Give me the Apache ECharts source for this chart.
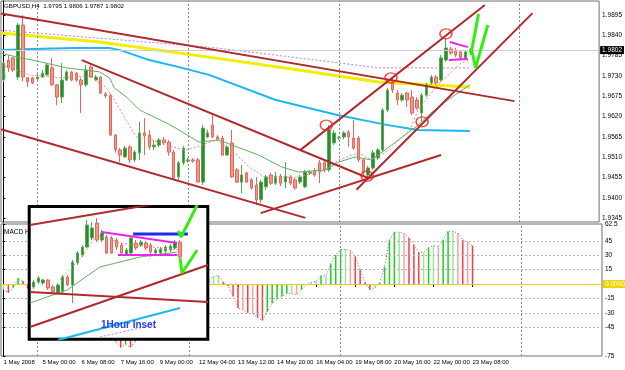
<!DOCTYPE html>
<html>
<head>
<meta charset="utf-8">
<script src="https://cdn.jsdelivr.net/npm/echarts@6/dist/echarts.min.js"></script>
<style>
  html, body { margin: 0; padding: 0; background: #fff; }
  #chart { width: 625px; height: 370px; }
</style>
</head>
<body>
<div id="chart"></div>
<script>
const FONT = "'Liberation Sans', sans-serif"

// time axis (H4 bars, label every 8th bar)
const tickIdx = [0, 8, 16, 24, 32, 40, 48, 56, 64, 72, 80, 88, 96]
const tickLabels = ['1 May 2008', '5 May 00:00', '6 May 08:00', '7 May 16:00', '9 May 00:00', '12 May 04:00',
  '13 May 12:00', '14 May 20:00', '16 May 04:00', '19 May 08:00', '20 May 16:00', '22 May 00:00', '23 May 08:00']
const weekLines = [7, 38, 69, 106]
const priceTicks = [1.9345, 1.9400, 1.9455, 1.9510, 1.9565, 1.9620, 1.9675, 1.9730, 1.9785, 1.9840, 1.9895]
const macdTicks = [62.5, 45, 30, 15, -15, -30, -45, -75]
const macdGrid = [45, 30, 15, -15, -30, -45]

// GBPUSD H4 candles: open, close, low, high
const candles = [
  [1.9719, 1.9765, 1.9714, 1.9768], [1.9773, 1.9752, 1.9741, 1.9787], [1.9779, 1.9746, 1.9741, 1.9781],
  [1.9727, 1.9868, 1.9719, 1.9873], [1.9868, 1.9727, 1.9716, 1.9895], [1.9725, 1.9714, 1.9700, 1.9727],
  [1.9725, 1.9711, 1.9708, 1.9727], [1.9722, 1.9727, 1.9719, 1.9735], [1.9727, 1.9738, 1.9725, 1.9746],
  [1.9733, 1.9760, 1.9730, 1.9765], [1.9752, 1.9706, 1.9703, 1.9779], [1.9706, 1.9673, 1.9651, 1.9708],
  [1.9673, 1.9719, 1.9657, 1.9765], [1.9719, 1.9741, 1.9716, 1.9746], [1.9741, 1.9719, 1.9716, 1.9744],
  [1.9738, 1.9719, 1.9714, 1.9741], [1.9719, 1.9706, 1.9630, 1.9725], [1.9706, 1.9746, 1.9700, 1.9760],
  [1.9754, 1.9727, 1.9725, 1.9760], [1.9719, 1.9727, 1.9716, 1.9733], [1.9727, 1.9684, 1.9681, 1.9730],
  [1.9681, 1.9676, 1.9670, 1.9687], [1.9678, 1.9570, 1.9568, 1.9681], [1.9570, 1.9530, 1.9522, 1.9573],
  [1.9530, 1.9516, 1.9497, 1.9535], [1.9511, 1.9535, 1.9508, 1.9541], [1.9538, 1.9503, 1.9495, 1.9543],
  [1.9503, 1.9524, 1.9497, 1.9530], [1.9522, 1.9576, 1.9503, 1.9606], [1.9576, 1.9568, 1.9516, 1.9616],
  [1.9570, 1.9538, 1.9530, 1.9584], [1.9538, 1.9543, 1.9530, 1.9557], [1.9543, 1.9557, 1.9538, 1.9562],
  [1.9557, 1.9549, 1.9543, 1.9565], [1.9551, 1.9524, 1.9514, 1.9557], [1.9524, 1.9454, 1.9449, 1.9530],
  [1.9457, 1.9495, 1.9449, 1.9500], [1.9495, 1.9535, 1.9489, 1.9541], [1.9500, 1.9503, 1.9495, 1.9508],
  [1.9503, 1.9500, 1.9495, 1.9508], [1.9503, 1.9443, 1.9441, 1.9508], [1.9443, 1.9589, 1.9435, 1.9597],
  [1.9565, 1.9576, 1.9562, 1.9584], [1.9597, 1.9565, 1.9562, 1.9624], [1.9565, 1.9559, 1.9557, 1.9570],
  [1.9562, 1.9516, 1.9514, 1.9568], [1.9516, 1.9538, 1.9514, 1.9543], [1.9549, 1.9457, 1.9454, 1.9584],
  [1.9476, 1.9443, 1.9441, 1.9481], [1.9443, 1.9462, 1.9413, 1.9489], [1.9468, 1.9443, 1.9441, 1.9470],
  [1.9449, 1.9427, 1.9422, 1.9454], [1.9435, 1.9395, 1.9381, 1.9457], [1.9395, 1.9443, 1.9386, 1.9449],
  [1.9430, 1.9457, 1.9422, 1.9462], [1.9462, 1.9440, 1.9435, 1.9468], [1.9440, 1.9459, 1.9435, 1.9470],
  [1.9459, 1.9440, 1.9432, 1.9465], [1.9443, 1.9459, 1.9427, 1.9497], [1.9457, 1.9440, 1.9435, 1.9462],
  [1.9449, 1.9427, 1.9422, 1.9454], [1.9443, 1.9457, 1.9438, 1.9462], [1.9430, 1.9470, 1.9427, 1.9476],
  [1.9468, 1.9470, 1.9462, 1.9476], [1.9473, 1.9462, 1.9457, 1.9481], [1.9495, 1.9470, 1.9440, 1.9503],
  [1.9495, 1.9476, 1.9470, 1.9503], [1.9476, 1.9584, 1.9470, 1.9597], [1.9549, 1.9576, 1.9543, 1.9584],
  [1.9562, 1.9563, 1.9557, 1.9568], [1.9565, 1.9576, 1.9559, 1.9581], [1.9578, 1.9565, 1.9538, 1.9584],
  [1.9562, 1.9535, 1.9530, 1.9611], [1.9562, 1.9503, 1.9497, 1.9568], [1.9503, 1.9470, 1.9462, 1.9508],
  [1.9462, 1.9481, 1.9449, 1.9487], [1.9481, 1.9522, 1.9476, 1.9530], [1.9508, 1.9530, 1.9503, 1.9535],
  [1.9530, 1.9638, 1.9524, 1.9643], [1.9638, 1.9692, 1.9632, 1.9698], [1.9714, 1.9692, 1.9684, 1.9725],
  [1.9684, 1.9665, 1.9651, 1.9692], [1.9665, 1.9678, 1.9660, 1.9684], [1.9684, 1.9665, 1.9646, 1.9687],
  [1.9673, 1.9630, 1.9624, 1.9692], [1.9665, 1.9643, 1.9638, 1.9673], [1.9630, 1.9678, 1.9606, 1.9684],
  [1.9678, 1.9706, 1.9673, 1.9711], [1.9711, 1.9727, 1.9706, 1.9733], [1.9727, 1.9711, 1.9706, 1.9733],
  [1.9719, 1.9779, 1.9714, 1.9787], [1.9773, 1.9806, 1.9768, 1.9833], [1.9803, 1.9792, 1.9787, 1.9809],
  [1.9800, 1.9787, 1.9781, 1.9806], [1.9795, 1.9779, 1.9773, 1.9800], [1.9779, 1.9795, 1.9776, 1.9800],
  [1.9795, 1.9802, 1.9787, 1.9806],
]

// MACD histogram, one value per bar
const macd = [
  -6, -9, -4, 6, 3, -5, -8, -10, -9, -6,
  -7, -12, -10, -8, -8, -9, -14, -11, -12, -13,
  -22, -30, -48, -60, -66, -63, -66, -60, -50, -44,
  -42, -38, -33, -30, -31, -40, -36, -28, -26, -24,
  -28, -12, 5, 7.6, 9, 2, -2, -13, -25, -27,
  -30, -31, -35, -38, -29, -20, -16, -13, -10, -10,
  -11, -6, -1, 1.5, 3, 8.5, 8.5, 21, 30, 36,
  36, 35, 29, 15, 1.5, -6, -4, 1, 18, 46,
  54, 54, 53, 48, 41, 33, 33, 38, 40, 39,
  46, 55, 55, 53, 46, 44, 40,
]

// moving averages, read as [bar, price]
const maYellow = [[-0.5, 1.9846], [19.8, 1.9822], [42.3, 1.9781], [60.7, 1.9746], [77.1, 1.9714], [95.9, 1.9700]]
const maPurple = [[-0.5, 1.9854], [42.3, 1.9808], [60.7, 1.9779], [77.1, 1.9752], [95.9, 1.9752]]
const maCyan = [[-0.5, 1.9800], [6, 1.9803], [14.7, 1.9806], [21.8, 1.9806], [24, 1.9800], [30, 1.9773],
  [36.1, 1.9754], [42.3, 1.9733], [56, 1.9665], [68.9, 1.9624], [79.1, 1.9597], [85.3, 1.9584], [95.9, 1.9581]]
const maGreen = [[-0.5, 1.9792], [2.8, 1.9781], [6, 1.9773], [13, 1.9752], [19.8, 1.9741], [21.8, 1.9725],
  [22.8, 1.9698], [25.3, 1.9673], [28, 1.9638], [33.5, 1.9603], [36.1, 1.9584], [40.2, 1.9551],
  [44.3, 1.9557], [47, 1.9543], [52.5, 1.9516], [57.2, 1.9484], [60.7, 1.9470], [66.2, 1.9476],
  [68.9, 1.9497], [72.4, 1.9511], [75.6, 1.9503], [78.5, 1.9530], [81.2, 1.9557], [85.3, 1.9597],
  [87.9, 1.9630], [91.4, 1.9665], [95.9, 1.9706]]
const maPink = [[-0.5, 1.9760], [5.4, 1.9733], [11.6, 1.9725], [17.7, 1.9730], [21.2, 1.9698], [22.8, 1.9665],
  [27.3, 1.9565], [30.6, 1.9557], [34.7, 1.9538], [37.6, 1.9530], [40.8, 1.9543], [43.7, 1.9557],
  [47, 1.9530], [50.5, 1.9484], [54, 1.9454], [60.7, 1.9457], [66.2, 1.9476], [68.9, 1.9503],
  [73, 1.9522], [75.6, 1.9503], [78.5, 1.9522], [83.6, 1.9584], [85.3, 1.9638], [89.3, 1.9706],
  [94.1, 1.9765], [95.9, 1.9773]]

// hand drawn objects
const trendLines = [
  [[-0.5, 1.9899], [105.1, 1.9662]],
  [[16.1, 1.9773], [75.0, 1.9454]],
  [[-0.5, 1.9586], [62.1, 1.9346]],
  [[52.9, 1.9359], [90.0, 1.9516]],
  [[61.1, 1.9530], [99.0, 1.9922]],
  [[72.6, 1.9422], [108.8, 1.9900]],
]
const circles = [[66.4, 1.9597], [79.7, 1.9725], [91.0, 1.9844], [86.1, 1.9606], [74.8, 1.9459]]
const wedge = [[[91.8, 1.9822], [95.5, 1.9808]], [[91.6, 1.9773], [95.5, 1.9776]]]
const checkMark = [[97.7, 1.9898], [96.3, 1.9800], [97.1, 1.9752], [99.6, 1.9868]]

// 1 hour inset
const insetCandles = [
  [1.9758, 1.9763, 1.9756, 1.9765], [1.9763, 1.9767, 1.9761, 1.9769], [1.9762, 1.9765, 1.9760, 1.9766],
  [1.9765, 1.9757, 1.9755, 1.9766], [1.9758, 1.9753, 1.9751, 1.9760], [1.9752, 1.9760, 1.9750, 1.9762],
  [1.9753, 1.9768, 1.9752, 1.9770], [1.9768, 1.9760, 1.9759, 1.9770], [1.9760, 1.9783, 1.9742, 1.9785],
  [1.9782, 1.9792, 1.9780, 1.9794], [1.9790, 1.9798, 1.9788, 1.9800], [1.9798, 1.9820, 1.9797, 1.9825],
  [1.9807, 1.9817, 1.9805, 1.9823], [1.9822, 1.9805, 1.9803, 1.9827], [1.9805, 1.9812, 1.9803, 1.9815],
  [1.9808, 1.9792, 1.9791, 1.9810], [1.9807, 1.9792, 1.9791, 1.9809], [1.9805, 1.9798, 1.9795, 1.9807],
  [1.9800, 1.9792, 1.9790, 1.9802], [1.9790, 1.9795, 1.9789, 1.9797], [1.9792, 1.9807, 1.9791, 1.9809],
  [1.9802, 1.9797, 1.9795, 1.9805], [1.9800, 1.9803, 1.9798, 1.9805], [1.9802, 1.9797, 1.9795, 1.9804],
  [1.9800, 1.9793, 1.9788, 1.9802], [1.9792, 1.9795, 1.9790, 1.9797], [1.9792, 1.9796, 1.9791, 1.9798],
  [1.9794, 1.9798, 1.9792, 1.9800], [1.9795, 1.9799, 1.9793, 1.9801], [1.9797, 1.9803, 1.9795, 1.9805],
  [1.9803, 1.9788, 1.9783, 1.9805],
]
const insetTrend = [
  [[-0.69, 1.9820], [26, 1.9842]],
  [[-0.69, 1.9718], [35.7, 1.9780]],
  [[-0.69, 1.9753], [35.7, 1.9743]],
]
const insetWedge = [[[14.0, 1.9813], [29.4, 1.9802]], [[17.3, 1.9790], [29.4, 1.9790]]]
const insetBlue = [[20.4, 1.9811], [31.6, 1.9811]]
const insetChecks = [
  [[29.6, 1.9814], [30.2, 1.9808], [33.5, 1.9840]],
  [[30.0, 1.9787], [30.4, 1.9772], [33.5, 1.9795]],
]
const insetCyan = [[5.0, 1.9705], [30.0, 1.9737]]
const insetPurple = [[13.6, 1.9708], [24.5, 1.9720]]
const insetGreen = [[-0.69, 1.9742], [6.9, 1.9755], [13.6, 1.9778], [21.8, 1.9788], [29.4, 1.9793]]
const insetPink = [[5.4, 1.9765], [10.2, 1.9790], [13.0, 1.9810], [17.7, 1.9802], [25.9, 1.9797], [30.0, 1.9795]]
const insetDayLine = 21.8
const insetLast = 1.9790

const chart = echarts.init(document.getElementById('chart'))

const last = candles[candles.length - 1]
const header = 'GBPUSD,H4  ' + [last[0], last[3], last[2], last[1]].map(v => v.toFixed(4)).join(' ')

function line(pts, color, width, type, gi, z) {
  return {
    type: 'line', xAxisIndex: gi, yAxisIndex: gi, data: pts, symbol: 'none', silent: true, z: z,
    lineStyle: { color: color, width: width, type: type },
  }
}

const candleStyle = {
  color: '#2b8a2b', color0: '#f3958b', borderColor: '#55aa55', borderColor0: '#e2685e', borderWidth: 1,
}

const series = [
  {
    type: 'candlestick', xAxisIndex: 0, yAxisIndex: 0, z: 3, barWidth: 3,
    encode: { x: 0, y: [1, 2, 3, 4] },
    data: candles.map((c, i) => [i, c[0], c[1], c[2], c[3]]),
    itemStyle: candleStyle,
    markLine: {
      symbol: 'none', silent: true, animation: false,
      label: { show: false },
      lineStyle: { color: '#8c8c8c', width: 1, type: [2, 2] },
      data: weekLines.map(v => ({ xAxis: v })).concat([{
        yAxis: last[1],
        lineStyle: { color: '#cfcfcf', type: 'solid' },
        label: {
          show: true, position: 'end', distance: 1, formatter: last[1].toFixed(4),
          backgroundColor: '#000', color: '#fff', padding: [1, 2, 0, 2], fontSize: 6.5, fontFamily: FONT,
        },
      }]),
    },
  },
  line(maPurple, '#b77ff0', 1, [2, 2], 0, 2),
  line(maYellow, '#f2ee00', 3, 'solid', 0, 2),
  line(maCyan, '#1cb6f2', 2, 'solid', 0, 2),
  line(maGreen, '#62b062', 1, 'solid', 0, 4),
  line(maPink, '#e58a80', 1, [2, 2], 0, 4),
  ...trendLines.map(t => line(t, '#b0292d', 2, 'solid', 0, 5)),
  ...wedge.map(t => line(t, '#ee22ee', 2, 'solid', 0, 5)),
  line(checkMark, '#33ee11', 3, 'solid', 0, 5),
  {
    type: 'scatter', xAxisIndex: 0, yAxisIndex: 0, z: 6, silent: true,
    symbol: 'circle', symbolSize: [12, 10], data: circles,
    itemStyle: { color: 'rgba(0,0,0,0)', borderColor: '#ff1a1a', borderWidth: 1.5 },
  },
  // MACD panel
  {
    type: 'bar', xAxisIndex: 1, yAxisIndex: 1, z: 3, barWidth: 1.5,
    data: macd.map((v, i) => [i, v]),
    itemStyle: {
      color: p => {
        const i = p.dataIndex
        const d = i ? macd[i] - macd[i - 1] : 0
        if (d >= 0) return d >= 3 ? '#22cc22' : '#9be89b'
        return d <= -3 ? '#ff3a3a' : '#ffa0a0'
      },
    },
    markLine: {
      symbol: 'none', silent: true, animation: false,
      label: { show: false },
      lineStyle: { color: '#b4b4b4', width: 1, type: [2, 2] },
      data: macdGrid.map(v => ({ yAxis: v }))
        .concat(weekLines.map(v => ({ xAxis: v, lineStyle: { color: '#8c8c8c' } })))
        .concat([{
          yAxis: 0,
          lineStyle: { color: '#f2d200', type: 'solid' },
          label: {
            show: true, position: 'end', distance: 1, formatter: '0.0000',
            backgroundColor: '#f2d200', color: '#fff', padding: [1, 2, 0, 2], fontSize: 6.5, fontFamily: FONT,
          },
        }]),
    },
  },
  line(macd.map((v, i) => [i, v]), '#777', 1, [1, 2], 1, 4),
  // inset
  {
    type: 'candlestick', xAxisIndex: 2, yAxisIndex: 2, z: 20, barWidth: 3,
    encode: { x: 0, y: [1, 2, 3, 4] },
    data: insetCandles.map((c, i) => [i, c[0], c[1], c[2], c[3]]),
    itemStyle: candleStyle,
    markLine: {
      symbol: 'none', silent: true, animation: false, label: { show: false },
      data: [
        { xAxis: insetDayLine, lineStyle: { color: '#8c8c8c', width: 1, type: [2, 2] } },
        { yAxis: insetLast, lineStyle: { color: '#d8d8d8', width: 1, type: 'solid' } },
      ],
    },
  },
  line(insetCyan, '#1cb6f2', 2, 'solid', 2, 21),
  line(insetPurple, '#b77ff0', 1, [2, 2], 2, 21),
  line(insetGreen, '#62b062', 1, 'solid', 2, 21),
  line(insetPink, '#e58a80', 1, [2, 2], 2, 21),
  ...insetTrend.map(t => line(t, '#b0292d', 2, 'solid', 2, 22)),
  ...insetWedge.map(t => line(t, '#ee22ee', 2, 'solid', 2, 22)),
  line(insetBlue, '#1a2cf0', 3, 'solid', 2, 22),
  ...insetChecks.map(t => line(t, '#33ee11', 3, 'solid', 2, 22)),
]

const axisFont = { fontSize: 6.5, color: '#000', fontFamily: FONT }

chart.setOption({
  animation: false,
  backgroundColor: '#fff',
  title: [
    { text: header, left: 4, top: 3, padding: 0, textStyle: { fontSize: 6.2, fontWeight: 'normal', color: '#000', fontFamily: FONT } },
    { text: 'MACD Histogram', left: 4, top: 229, padding: 0, textStyle: { fontSize: 6.5, fontWeight: 'normal', color: '#000', fontFamily: FONT } },
  ],
  graphic: [{
    type: 'text', left: 101, top: 320, z: 100,
    style: { text: '1Hour Inset', fill: '#1f3cff', font: "bold 10px 'Liberation Sans', sans-serif" },
  }],
  grid: [
    { left: 1, top: 1, width: 601, height: 221, show: true, borderColor: '#707070', borderWidth: 1 },
    { left: 1, top: 224, width: 601, height: 132, show: true, borderColor: '#707070', borderWidth: 1 },
    { left: 29.2, top: 206.5, width: 178.6, height: 132.7, show: true, backgroundColor: '#fff', borderColor: '#000', borderWidth: 3, z: 10 },
  ],
  xAxis: [
    { type: 'value', gridIndex: 0, min: -0.5, max: 122.5, show: false },
    {
      type: 'value', gridIndex: 1, min: -0.5, max: 122.5,
      axisLine: { show: true, lineStyle: { color: '#707070' } },
      axisTick: { show: true, customValues: tickIdx, length: 3, lineStyle: { color: '#000' } },
      axisLabel: {
        customValues: tickIdx, align: 'left', margin: 3, ...axisFont, fontSize: 6,
        formatter: v => tickLabels[tickIdx.indexOf(v)] || '',
      },
      splitLine: { show: false },
    },
    { type: 'value', gridIndex: 2, min: -0.855, max: 35.67, show: false },
  ],
  yAxis: [
    {
      type: 'value', gridIndex: 0, position: 'right', min: 1.93349, max: 1.99329,
      axisLine: { show: true, lineStyle: { color: '#000' } },
      axisTick: { show: true, customValues: priceTicks, length: 2, lineStyle: { color: '#000' } },
      axisLabel: { customValues: priceTicks, margin: 3, formatter: v => v.toFixed(4), ...axisFont },
      splitLine: { show: false },
    },
    {
      type: 'value', gridIndex: 1, position: 'right', min: -75, max: 62.5,
      axisLine: { show: true, lineStyle: { color: '#000' } },
      axisTick: { show: true, customValues: macdTicks, length: 2, lineStyle: { color: '#000' } },
      axisLabel: { customValues: macdTicks, margin: 3, ...axisFont },
      splitLine: { show: false },
    },
    { type: 'value', gridIndex: 2, min: 1.97058, max: 1.98385, show: false },
  ],
  series: series,
})
</script>
</body>
</html>
